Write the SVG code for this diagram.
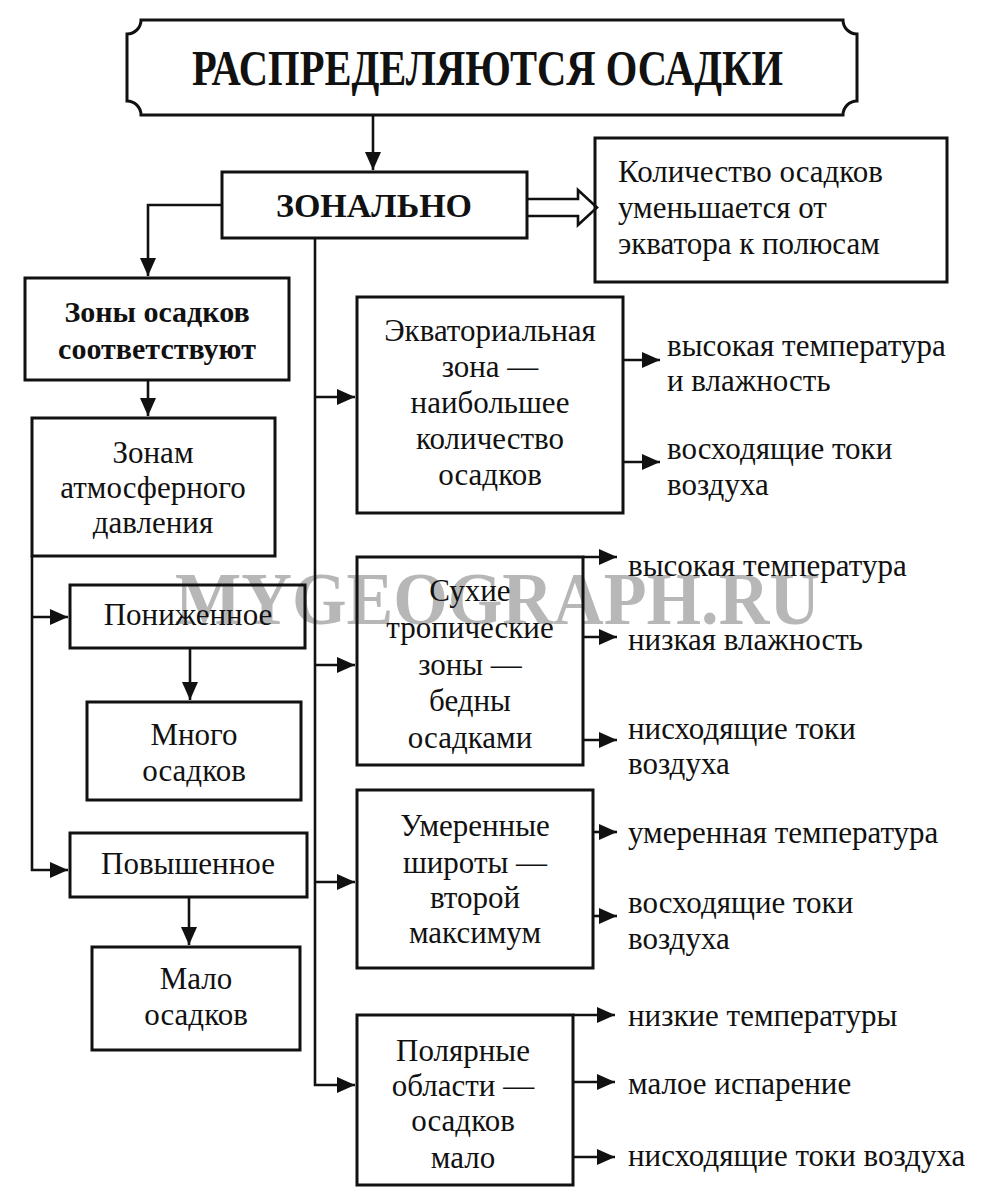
<svg xmlns="http://www.w3.org/2000/svg" width="995" height="1200" viewBox="0 0 995 1200">
<style>
.box{fill:none;stroke:#111;stroke-width:3}
.ln{fill:none;stroke:#111;stroke-width:2.6}
.t{font-family:"Liberation Serif","Times New Roman",serif;font-size:31px;fill:#111}
.c{text-anchor:middle}
.b{font-weight:bold;font-size:30px}
.wm{font-family:"Liberation Serif",serif;font-weight:bold;font-size:74px;fill:#999;opacity:0.7}
</style>
<defs>
<marker id="ah" markerUnits="userSpaceOnUse" markerWidth="20" markerHeight="16" refX="18" refY="8" orient="auto">
<path d="M0,0 L18,8 L0,16 Z" fill="#111"/>
</marker>
</defs>
<rect width="995" height="1200" fill="#fff"/>
<text class="wm" x="175" y="624" textLength="645" lengthAdjust="spacingAndGlyphs">MYGEOGRAPH.RU</text>

<g id="connectors">
<path class="ln" d="M373,115 V170" marker-end="url(#ah)"/>
<path d="M527,199 H578 V190 L597,207.5 L578,225 V216 H527" fill="#fff" stroke="#111" stroke-width="2.6"/>
<path class="ln" d="M222,205 H148 V276" marker-end="url(#ah)"/>
<path class="ln" d="M148,380 V416" marker-end="url(#ah)"/>
<path class="ln" d="M32,556 V870 H68" marker-end="url(#ah)"/>
<path class="ln" d="M32,617 H68" marker-end="url(#ah)"/>
<path class="ln" d="M190,648 V700" marker-end="url(#ah)"/>
<path class="ln" d="M189,897 V945" marker-end="url(#ah)"/>
<path class="ln" d="M315,238 V1085 H355" marker-end="url(#ah)"/>
<path class="ln" d="M315,397 H355" marker-end="url(#ah)"/>
<path class="ln" d="M315,665 H355" marker-end="url(#ah)"/>
<path class="ln" d="M315,882 H355" marker-end="url(#ah)"/>
<path class="ln" d="M623,360 H660" marker-end="url(#ah)"/>
<path class="ln" d="M623,462 H660" marker-end="url(#ah)"/>
<path class="ln" d="M583,557 H617" marker-end="url(#ah)"/>
<path class="ln" d="M583,637 H617" marker-end="url(#ah)"/>
<path class="ln" d="M583,740 H617" marker-end="url(#ah)"/>
<path class="ln" d="M593,832 H617" marker-end="url(#ah)"/>
<path class="ln" d="M593,916 H617" marker-end="url(#ah)"/>
<path class="ln" d="M573,1015 H615" marker-end="url(#ah)"/>
<path class="ln" d="M573,1082 H615" marker-end="url(#ah)"/>
<path class="ln" d="M573,1157 H615" marker-end="url(#ah)"/>
</g>

<g id="title">
<path class="box" d="M141,20 H843 A14,14 0 0 0 857,34 V101 A14,14 0 0 0 843,115 H141 A14,14 0 0 0 127,101 V34 A14,14 0 0 0 141,20 Z"/>
<text class="t b" x="192" y="85" style="font-size:50px" textLength="591" lengthAdjust="spacingAndGlyphs">РАСПРЕДЕЛЯЮТСЯ ОСАДКИ</text>
</g>

<g id="zonalno">
<rect class="box" x="222" y="172" width="305" height="66"/>
<text class="t b c" x="374" y="217" style="font-size:34px">ЗОНАЛЬНО</text>
</g>

<g id="kolichestvo">
<rect class="box" x="595" y="138" width="352" height="144"/>
<text class="t" x="618" y="182">Количество осадков</text>
<text class="t" x="618" y="218">уменьшается от</text>
<text class="t" x="618" y="254">экватора к полюсам</text>
</g>

<g id="zony">
<rect class="box" x="25" y="278" width="264" height="102"/>
<text class="t b c" x="157" y="322">Зоны осадков</text>
<text class="t b c" x="157" y="359">соответствуют</text>
</g>

<g id="zonam">
<rect class="box" x="32" y="418" width="243" height="138"/>
<text class="t c" x="153" y="463">Зонам</text>
<text class="t c" x="153" y="498">атмосферного</text>
<text class="t c" x="153" y="533">давления</text>
</g>

<g id="ponizhennoe">
<rect class="box" x="70" y="585" width="235" height="63"/>
<text class="t c" x="188" y="625">Пониженное</text>
</g>

<g id="mnogo">
<rect class="box" x="87" y="702" width="214" height="98"/>
<text class="t c" x="194" y="745">Много</text>
<text class="t c" x="194" y="781">осадков</text>
</g>

<g id="povyshennoe">
<rect class="box" x="70" y="833" width="237" height="64"/>
<text class="t c" x="188" y="874">Повышенное</text>
</g>

<g id="malo">
<rect class="box" x="92" y="947" width="208" height="103"/>
<text class="t c" x="196" y="989">Мало</text>
<text class="t c" x="196" y="1025">осадков</text>
</g>

<g id="ekvator">
<rect class="box" x="357" y="297" width="266" height="216"/>
<text class="t c" x="490" y="341">Экваториальная</text>
<text class="t c" x="490" y="377">зона —</text>
<text class="t c" x="490" y="413">наибольшее</text>
<text class="t c" x="490" y="449">количество</text>
<text class="t c" x="490" y="485">осадков</text>
<text class="t" x="667" y="356">высокая температура</text>
<text class="t" x="667" y="391">и влажность</text>
<text class="t" x="667" y="459">восходящие токи</text>
<text class="t" x="667" y="495">воздуха</text>
</g>

<g id="sukhie">
<rect class="box" x="357" y="557" width="226" height="208"/>
<text class="t c" x="470" y="601">Сухие</text>
<text class="t c" x="470" y="638">тропические</text>
<text class="t c" x="470" y="675">зоны —</text>
<text class="t c" x="470" y="711">бедны</text>
<text class="t c" x="470" y="748">осадками</text>
<text class="t" x="628" y="576">высокая температура</text>
<text class="t" x="628" y="650">низкая влажность</text>
<text class="t" x="628" y="739">нисходящие токи</text>
<text class="t" x="628" y="774">воздуха</text>
</g>

<g id="umerennye">
<rect class="box" x="357" y="790" width="236" height="178"/>
<text class="t c" x="475" y="836">Умеренные</text>
<text class="t c" x="475" y="873">широты —</text>
<text class="t c" x="475" y="908">второй</text>
<text class="t c" x="475" y="943">максимум</text>
<text class="t" x="628" y="843">умеренная температура</text>
<text class="t" x="628" y="913">восходящие токи</text>
<text class="t" x="628" y="949">воздуха</text>
</g>

<g id="polyarnye">
<rect class="box" x="357" y="1015" width="216" height="170"/>
<text class="t c" x="463" y="1061">Полярные</text>
<text class="t c" x="463" y="1096">области —</text>
<text class="t c" x="463" y="1131">осадков</text>
<text class="t c" x="463" y="1168">мало</text>
<text class="t" x="628" y="1026">низкие температуры</text>
<text class="t" x="628" y="1094">малое испарение</text>
<text class="t" x="628" y="1166">нисходящие токи воздуха</text>
</g>
</svg>
